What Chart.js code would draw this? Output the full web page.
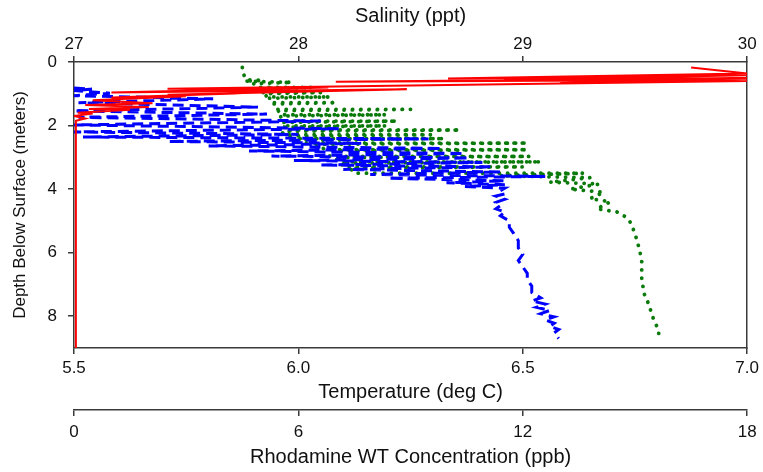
<!DOCTYPE html>
<html>
<head>
<meta charset="utf-8">
<script src="https://cdn.jsdelivr.net/npm/chart.js@4/dist/chart.umd.min.js"></script>
<style>
  html, body { margin: 0; padding: 0; background: #fff; }
  #wrap { width: 763px; height: 472px; }
</style>
</head>
<body>
<div id="wrap"><canvas id="c" width="763" height="472"></canvas></div>
<script>
// Tick labels
const depthTicks = [0, 2, 4, 6, 8];
const salinityTicks = [27, 28, 29, 30];
const temperatureTicks = [5.5, 6.0, 6.5, 7.0];
const rhodamineTicks = [0, 6, 12, 18];

// Salinity profile (ppt) vs depth (m), in recording order
const salinityPpt = [27.75, 27.75, 27.76, 27.77, 27.84, 27.76,
  27.97, 27.80,
  27.82, 28.06, 27.83,
  27.84, 28.10, 27.85,
  27.86, 28.14, 27.87,
  27.88, 28.17, 27.89,
  27.90, 28.50, 27.91,
  27.92, 28.39, 27.92,
  27.93, 28.44, 27.93,
  27.94, 28.39, 27.94,
  27.94, 28.72, 27.93,
  27.93, 28.59, 27.95,
  27.97, 28.65, 28.00,
  28.03, 29.02, 28.08,
  28.12, 29.02, 28.14,
  28.14, 29.03, 28.16,
  28.18, 29.08, 28.19,
  28.20, 29.00, 28.23,
  28.25, 29.27, 28.90,
  29.30, 29.12, 29.34, 29.21, 29.36, 29.30, 29.39, 29.33, 29.42, 29.46,
  29.48, 29.50, 29.52, 29.53, 29.53, 29.54, 29.56, 29.58, 29.60, 29.61];
const salinityDepth = [0.17, 0.30, 0.45, 0.56, 0.58, 0.60,
  0.64, 0.68,
  0.80, 0.80, 0.84,
  0.96, 0.96, 1.00,
  1.10, 1.10, 1.14,
  1.28, 1.28, 1.32,
  1.49, 1.49, 1.53,
  1.66, 1.66, 1.70,
  1.86, 1.86, 1.90,
  2.01, 2.01, 2.05,
  2.14, 2.14, 2.18,
  2.29, 2.29, 2.33,
  2.41, 2.41, 2.45,
  2.55, 2.55, 2.59,
  2.76, 2.76, 2.80,
  2.97, 2.97, 3.01,
  3.14, 3.14, 3.18,
  3.30, 3.30, 3.34,
  3.50, 3.50, 3.58,
  3.64, 3.78, 3.84, 4.00, 4.10, 4.30, 4.40, 4.62, 4.72, 4.88,
  5.05, 5.40, 5.90, 6.25, 6.80, 7.28, 7.60, 8.04, 8.36, 8.67];

// Temperature profile (deg C) vs depth (m), in recording order
const temperatureC = [5.50, 5.54, 5.50, 5.58, 5.50, 5.81, 5.51, 5.91, 5.50, 5.93,
  5.51, 6.05, 5.50, 6.09, 5.50, 6.00, 5.52, 6.29, 5.71, 6.14,
  5.80, 6.32, 5.89, 6.37, 5.94, 6.38, 5.99, 6.41, 6.05, 6.43,
  6.10, 6.45, 6.16, 6.55, 6.20, 6.46, 6.33, 6.46, 6.37, 6.46,
  6.45, 6.46, 6.44, 6.46, 6.44, 6.45, 6.44, 6.46, 6.45, 6.47,
  6.47, 6.48, 6.49, 6.49, 6.50, 6.49, 6.50, 6.51, 6.51, 6.52,
  6.52, 6.54, 6.52, 6.55, 6.53, 6.56, 6.54, 6.57, 6.55, 6.57,
  6.56, 6.58, 6.57, 6.58];
const temperatureDepth = [0.82, 0.85, 0.90, 0.98, 1.06, 1.16, 1.28, 1.42, 1.54, 1.64,
  1.74, 1.86, 1.98, 2.10, 2.20, 2.28, 2.36, 2.42, 2.50, 2.56,
  2.64, 2.72, 2.80, 2.88, 2.96, 3.02, 3.10, 3.16, 3.24, 3.30,
  3.38, 3.46, 3.54, 3.60, 3.66, 3.74, 3.80, 3.86, 3.92, 3.97,
  4.05, 4.15, 4.22, 4.32, 4.42, 4.52, 4.62, 4.72, 4.84, 5.00,
  5.20, 5.40, 5.62, 5.85, 6.05, 6.25, 6.45, 6.65, 6.85, 7.05,
  7.25, 7.42, 7.52, 7.62, 7.72, 7.82, 7.92, 8.02, 8.12, 8.22,
  8.32, 8.42, 8.52, 8.70];

// Rhodamine WT concentration (ppb) vs depth (m), in recording order
const rhodaminePpb = [16.5, 18.0, 10.0, 18.0, 11.5, 18.0, 7.0, 18.0, 13.0, 18.0,
  2.5, 6.8, 1.0, 8.9, 2.5, 4.5, 1.0, 3.0, 0.5, 2.1,
  0.3, 2.0, 0.4, 1.5, 0.1, 0.5, 0.0, 0.3, 0.05, 0.05];
const rhodamineDepth = [0.17, 0.36, 0.52, 0.42, 0.56, 0.50, 0.62, 0.56, 0.66, 0.60,
  0.84, 0.80, 0.96, 0.86, 1.03, 0.98, 1.12, 1.08, 1.20, 1.30,
  1.35, 1.42, 1.48, 1.50, 1.60, 1.62, 1.70, 1.78, 1.85, 9.00];

const toPts = (xs, ys) => xs.map((v, i) => ({ x: v, y: ys[i] }));

const FONT = 'Liberation Sans, Arial, sans-serif';
const AX = '#3a3a3a';
const TXT = '#111';
const tickFont = { family: FONT, size: 17 };
const titleFont = { family: FONT, size: 20 };
const yTitleFont = { family: FONT, size: 17 };
const gridOpts = { drawOnChartArea: false, drawTicks: true, tickLength: 6, color: AX, lineWidth: 1.5 };
const borderOpts = { display: true, color: AX, width: 1.5 };
const setTicks = (vals) => (s) => { s.ticks = vals.map(v => ({ value: v })); };

new Chart(document.getElementById('c'), {
  type: 'scatter',
  data: {
    datasets: [
      {
        label: 'Rhodamine WT',
        data: toPts(rhodaminePpb, rhodamineDepth),
        xAxisID: 'xRho', yAxisID: 'y',
        showLine: true, pointRadius: 0, borderColor: '#ff0000', borderWidth: 2, tension: 0
      },
      {
        label: 'Temperature',
        data: toPts(temperatureC, temperatureDepth),
        xAxisID: 'xTemp', yAxisID: 'y',
        showLine: true, pointRadius: 0, borderColor: '#0000ff', borderWidth: 3,
        borderDash: [11, 6], tension: 0
      },
      {
        label: 'Salinity',
        data: toPts(salinityPpt, salinityDepth),
        xAxisID: 'xSal', yAxisID: 'y',
        showLine: true, pointRadius: 0, borderColor: '#0a7a0a', borderWidth: 3.8,
        borderDash: [0.1, 8.2], borderCapStyle: 'round', tension: 0
      }
    ]
  },
  options: {
    responsive: false,
    animation: false,
    devicePixelRatio: 1,
    events: [],
    layout: { padding: 0 },
    plugins: { legend: { display: false }, tooltip: { enabled: false } },
    scales: {
      y: {
        type: 'linear', position: 'left', reverse: true, min: 0, max: 9,
        afterBuildTicks: setTicks(depthTicks),
        ticks: { font: tickFont, color: TXT, padding: 11 },
        grid: gridOpts, border: borderOpts,
        title: { display: true, text: 'Depth Below Surface (meters)', font: yTitleFont, color: TXT, padding: { top: 10 } },
        afterFit: (s) => { s.width = 74; }
      },
      yRight: {
        type: 'linear', position: 'right', min: 0, max: 9,
        ticks: { display: false },
        grid: { drawOnChartArea: false, drawTicks: false },
        border: borderOpts,
        afterFit: (s) => { s.width = 15; }
      },
      xSal: {
        type: 'linear', position: 'top', min: 27, max: 30,
        afterBuildTicks: setTicks(salinityTicks),
        ticks: { font: tickFont, color: TXT, padding: 1 },
        grid: gridOpts, border: borderOpts,
        title: { display: true, text: 'Salinity (ppt)', font: titleFont, color: TXT, padding: { top: 4 } },
        afterFit: (s) => { s.height = 62; }
      },
      xTemp: {
        type: 'linear', position: 'bottom', min: 5.5, max: 7.0, weight: 0,
        afterBuildTicks: setTicks(temperatureTicks),
        ticks: { font: tickFont, color: TXT, padding: 4, callback: (v) => Number(v).toFixed(1) },
        grid: gridOpts, border: borderOpts,
        title: { display: true, text: 'Temperature (deg C)', font: titleFont, color: TXT, padding: { bottom: 6 } },
        afterFit: (s) => { s.height = 62; }
      },
      xRho: {
        type: 'linear', position: 'bottom', min: 0, max: 18, weight: 1,
        afterBuildTicks: setTicks(rhodamineTicks),
        ticks: { font: tickFont, color: TXT, padding: 6 },
        grid: gridOpts, border: borderOpts,
        title: { display: true, text: 'Rhodamine WT Concentration (ppb)', font: titleFont, color: TXT, padding: { bottom: 3 } },
        afterFit: (s) => { s.height = 62; }
      }
    }
  }
});
</script>
</body>
</html>
